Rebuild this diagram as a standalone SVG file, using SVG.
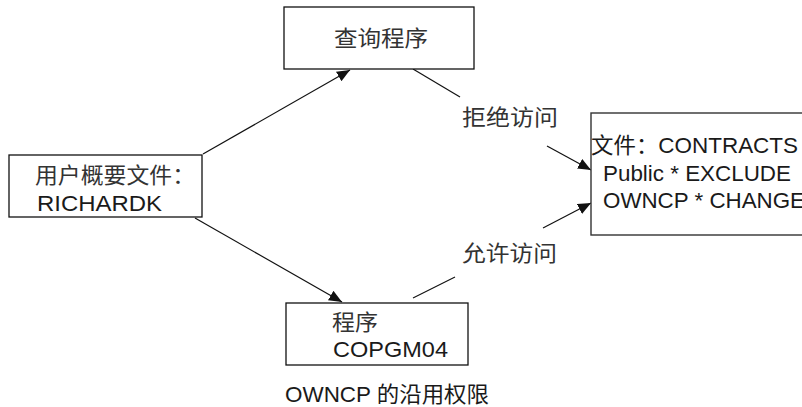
<svg xmlns="http://www.w3.org/2000/svg" width="802" height="407" viewBox="0 0 802 407">
<style>
.box{fill:#fff;stroke:#111;stroke-width:1.3}
.t{font-family:"Liberation Sans","Noto Sans CJK SC",sans-serif;font-size:22px;fill:#1a1a1a}
.c{font-family:"Noto Sans CJK SC","Liberation Sans",sans-serif;font-size:22px;fill:#333}
.ln{stroke:#111;stroke-width:1.2;fill:none}
</style>
<defs>
<marker id="ah" markerUnits="userSpaceOnUse" markerWidth="14" markerHeight="12" refX="13" refY="5.5" orient="auto">
<path d="M0,0 L13,5.5 L0,11 z" fill="#111"/>
</marker>
</defs>
<rect width="802" height="407" fill="#fff"/>
<g id="connectors">
<line class="ln" x1="203" y1="154" x2="350" y2="70" marker-end="url(#ah)"/>
<line class="ln" x1="195" y1="218" x2="342" y2="302" marker-end="url(#ah)"/>
<line class="ln" x1="413" y1="69" x2="460" y2="97"/>
<line class="ln" x1="547" y1="146" x2="591" y2="170" marker-end="url(#ah)"/>
<line class="ln" x1="413" y1="298" x2="455" y2="277"/>
<line class="ln" x1="543" y1="228" x2="591" y2="203" marker-end="url(#ah)"/>
<text class="c" x="462" y="125" textLength="96" lengthAdjust="spacingAndGlyphs">拒绝访问</text>
<text class="c" x="462" y="261" textLength="95" lengthAdjust="spacingAndGlyphs">允许访问</text>
</g>
<g id="user-profile">
<rect class="box" x="9" y="155" width="193" height="62"/>
<text class="c" x="35" y="183" textLength="160" lengthAdjust="spacingAndGlyphs">用户概要文件：</text>
<text class="t" x="37" y="211" textLength="125" lengthAdjust="spacingAndGlyphs">RICHARDK</text>
</g>
<g id="query-program">
<rect class="box" x="284" y="7" width="190" height="62"/>
<text class="c" x="334" y="46" textLength="94" lengthAdjust="spacingAndGlyphs">查询程序</text>
</g>
<g id="file-contracts">
<rect x="591" y="113" width="230" height="122" fill="#fff" stroke="#333" stroke-width="1.4"/>
<text class="t" x="591" y="153" textLength="207" lengthAdjust="spacingAndGlyphs">文件：CONTRACTS</text>
<text class="t" x="603" y="181" textLength="188" lengthAdjust="spacingAndGlyphs">Public * EXCLUDE</text>
<text class="t" x="603" y="208" textLength="202" lengthAdjust="spacingAndGlyphs">OWNCP * CHANGE</text>
</g>
<g id="program-copgm04">
<rect class="box" x="286" y="303" width="182" height="62"/>
<text class="c" x="332" y="330" textLength="46" lengthAdjust="spacingAndGlyphs">程序</text>
<text class="t" x="333" y="357" textLength="115" lengthAdjust="spacingAndGlyphs">COPGM04</text>
</g>
<g id="caption">
<text class="t" x="285" y="402" textLength="204" lengthAdjust="spacingAndGlyphs">OWNCP 的沿用权限</text>
</g>
</svg>
